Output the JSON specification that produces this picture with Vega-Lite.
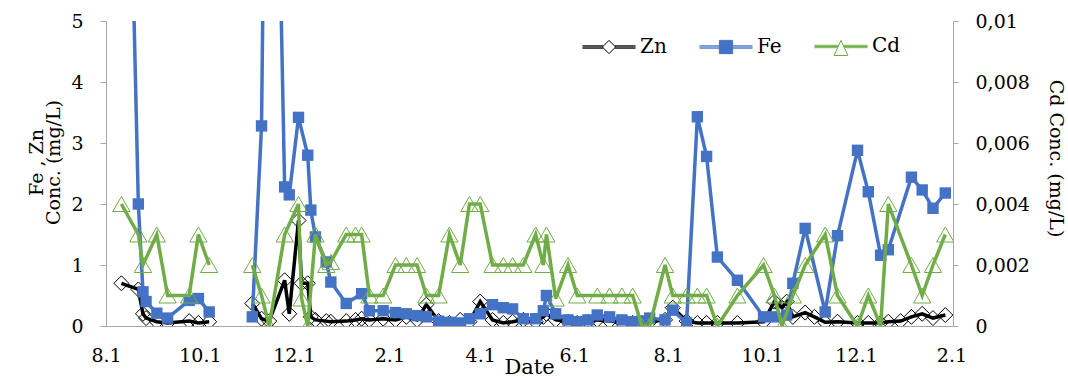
{
  "$schema": "https://vega.github.io/schema/vega-lite/v6.json",
  "autosize": {"type": "none"},
  "padding": {"left": 106, "top": 21, "right": 115, "bottom": 53},
  "width": 847,
  "height": 305,
  "background": "white",
  "config": {
    "font": "DejaVu Serif",
    "view": {"stroke": null},
    "axis": {
      "grid": false,
      "domainColor": "#a6a6a6",
      "tickColor": "#a6a6a6",
      "labelColor": "black",
      "titleColor": "black",
      "labelFont": "DejaVu Serif",
      "titleFont": "DejaVu Serif",
      "labelFontSize": 19,
      "titleFontSize": 19,
      "titleFontWeight": "normal"
    }
  },
  "data": {
    "values": [
      {"date": "2013-08-11", "seg": 1, "Zn": 0.7, "Fe": 14, "Cd": 0.004},
      {"date": "2013-08-22", "seg": 1, "Zn": 0.6, "Fe": 2.0, "Cd": 0.003},
      {"date": "2013-08-25", "seg": 1, "Zn": 0.2, "Fe": 0.56, "Cd": 0.002},
      {"date": "2013-08-27", "seg": 1, "Zn": 0.13, "Fe": 0.4, "Cd": null},
      {"date": "2013-09-03", "seg": 1, "Zn": 0.07, "Fe": 0.21, "Cd": 0.003},
      {"date": "2013-09-10", "seg": 1, "Zn": 0.05, "Fe": 0.13, "Cd": 0.001},
      {"date": "2013-09-24", "seg": 1, "Zn": 0.08, "Fe": 0.42, "Cd": 0.001},
      {"date": "2013-09-30", "seg": 1, "Zn": 0.05, "Fe": 0.45, "Cd": 0.003},
      {"date": "2013-10-07", "seg": 1, "Zn": 0.07, "Fe": 0.23, "Cd": 0.002},
      {"date": "2013-11-04", "seg": 2, "Zn": 0.37, "Fe": 0.15, "Cd": 0.002},
      {"date": "2013-11-10", "seg": 2, "Zn": 0.12, "Fe": 3.28, "Cd": 0.001},
      {"date": "2013-11-15", "seg": 2, "Zn": 0.08, "Fe": 15, "Cd": 0},
      {"date": "2013-11-25", "seg": 2, "Zn": 0.75, "Fe": 2.28, "Cd": 0.003},
      {"date": "2013-11-28", "seg": 2, "Zn": 0.2, "Fe": 2.15, "Cd": null},
      {"date": "2013-12-04", "seg": 2, "Zn": 1.73, "Fe": 3.42, "Cd": 0.004},
      {"date": "2013-12-06", "seg": 2, "Zn": 0.7, "Fe": null, "Cd": 0.0009},
      {"date": "2013-12-10", "seg": 2, "Zn": 0.7, "Fe": 2.8, "Cd": 0},
      {"date": "2013-12-12", "seg": 2, "Zn": 0.15, "Fe": 1.9, "Cd": null},
      {"date": "2013-12-15", "seg": 2, "Zn": 0.1, "Fe": 1.46, "Cd": 0.003},
      {"date": "2013-12-22", "seg": 2, "Zn": 0.08, "Fe": 1.05, "Cd": 0.002},
      {"date": "2013-12-25", "seg": 2, "Zn": 0.07, "Fe": 0.72, "Cd": 0.0021},
      {"date": "2014-01-04", "seg": 2, "Zn": 0.08, "Fe": 0.37, "Cd": 0.003},
      {"date": "2014-01-10", "seg": 2, "Zn": 0.1, "Fe": null, "Cd": 0.003},
      {"date": "2014-01-14", "seg": 2, "Zn": 0.12, "Fe": 0.53, "Cd": 0.003},
      {"date": "2014-01-19", "seg": 2, "Zn": 0.1, "Fe": 0.25, "Cd": 0.001},
      {"date": "2014-01-28", "seg": 2, "Zn": 0.12, "Fe": 0.25, "Cd": 0.001},
      {"date": "2014-02-05", "seg": 2, "Zn": 0.1, "Fe": 0.22, "Cd": 0.002},
      {"date": "2014-02-12", "seg": 2, "Zn": 0.15, "Fe": 0.2, "Cd": 0.002},
      {"date": "2014-02-19", "seg": 2, "Zn": 0.1, "Fe": 0.17, "Cd": 0.002},
      {"date": "2014-02-25", "seg": 2, "Zn": 0.35, "Fe": 0.15, "Cd": 0.001},
      {"date": "2014-03-05", "seg": 2, "Zn": 0.08, "Fe": 0.08, "Cd": 0.001},
      {"date": "2014-03-12", "seg": 2, "Zn": 0.05, "Fe": 0.06, "Cd": 0.003},
      {"date": "2014-03-19", "seg": 2, "Zn": 0.1, "Fe": 0.05, "Cd": 0.002},
      {"date": "2014-03-25", "seg": 2, "Zn": 0.07, "Fe": 0.12, "Cd": 0.004},
      {"date": "2014-04-01", "seg": 2, "Zn": 0.4, "Fe": 0.2, "Cd": 0.004},
      {"date": "2014-04-09", "seg": 2, "Zn": 0.1, "Fe": 0.35, "Cd": 0.002},
      {"date": "2014-04-16", "seg": 2, "Zn": 0.05, "Fe": 0.3, "Cd": 0.002},
      {"date": "2014-04-22", "seg": 2, "Zn": 0.07, "Fe": 0.28, "Cd": 0.002},
      {"date": "2014-04-29", "seg": 2, "Zn": 0.1, "Fe": 0.12, "Cd": 0.002},
      {"date": "2014-05-07", "seg": 2, "Zn": 0.07, "Fe": 0.12, "Cd": 0.003},
      {"date": "2014-05-12", "seg": 2, "Zn": 0.15, "Fe": 0.25, "Cd": 0.002},
      {"date": "2014-05-14", "seg": 2, "Zn": 0.2, "Fe": 0.5, "Cd": 0.003},
      {"date": "2014-05-20", "seg": 2, "Zn": 0.1, "Fe": 0.2, "Cd": 0.0009},
      {"date": "2014-05-28", "seg": 2, "Zn": 0.07, "Fe": 0.1, "Cd": 0.002},
      {"date": "2014-06-03", "seg": 2, "Zn": 0.05, "Fe": 0.07, "Cd": 0.001},
      {"date": "2014-06-10", "seg": 2, "Zn": 0.07, "Fe": 0.1, "Cd": null},
      {"date": "2014-06-16", "seg": 2, "Zn": 0.1, "Fe": 0.18, "Cd": 0.001},
      {"date": "2014-06-24", "seg": 2, "Zn": 0.08, "Fe": 0.15, "Cd": 0.001},
      {"date": "2014-07-02", "seg": 2, "Zn": 0.06, "Fe": 0.1, "Cd": 0.001},
      {"date": "2014-07-09", "seg": 2, "Zn": 0.05, "Fe": 0.07, "Cd": 0.001},
      {"date": "2014-07-15", "seg": 2, "Zn": 0.05, "Fe": 0.08, "Cd": 0},
      {"date": "2014-07-20", "seg": 2, "Zn": 0.07, "Fe": 0.13, "Cd": 0},
      {"date": "2014-07-30", "seg": 2, "Zn": 0.1, "Fe": 0.1, "Cd": 0.002},
      {"date": "2014-08-04", "seg": 2, "Zn": 0.3, "Fe": 0.26, "Cd": 0.001},
      {"date": "2014-08-13", "seg": 2, "Zn": 0.08, "Fe": 0.05, "Cd": 0.001},
      {"date": "2014-08-20", "seg": 2, "Zn": 0.05, "Fe": 3.43, "Cd": 0.001},
      {"date": "2014-08-26", "seg": 2, "Zn": 0.05, "Fe": 2.78, "Cd": 0.001},
      {"date": "2014-09-02", "seg": 2, "Zn": 0.05, "Fe": 1.13, "Cd": 0},
      {"date": "2014-09-15", "seg": 2, "Zn": 0.05, "Fe": 0.75, "Cd": 0.001},
      {"date": "2014-10-02", "seg": 2, "Zn": 0.07, "Fe": 0.15, "Cd": 0.002},
      {"date": "2014-10-09", "seg": 2, "Zn": 0.4, "Fe": 0.15, "Cd": 0.001},
      {"date": "2014-10-14", "seg": 2, "Zn": 0.3, "Fe": null, "Cd": 0},
      {"date": "2014-10-17", "seg": 2, "Zn": 0.4, "Fe": 0.18, "Cd": null},
      {"date": "2014-10-21", "seg": 2, "Zn": 0.15, "Fe": 0.7, "Cd": 0.001},
      {"date": "2014-10-29", "seg": 2, "Zn": 0.22, "Fe": 1.6, "Cd": 0.002},
      {"date": "2014-11-04", "seg": 2, "Zn": 0.15, "Fe": null, "Cd": null},
      {"date": "2014-11-11", "seg": 2, "Zn": 0.06, "Fe": 0.23, "Cd": 0.003},
      {"date": "2014-11-19", "seg": 2, "Zn": 0.07, "Fe": 1.48, "Cd": 0.001},
      {"date": "2014-12-02", "seg": 2, "Zn": 0.05, "Fe": 2.88, "Cd": 0},
      {"date": "2014-12-09", "seg": 2, "Zn": 0.05, "Fe": 2.2, "Cd": 0.001},
      {"date": "2014-12-17", "seg": 2, "Zn": 0.05, "Fe": 1.16, "Cd": 0},
      {"date": "2014-12-22", "seg": 2, "Zn": 0.07, "Fe": 1.25, "Cd": 0.004},
      {"date": "2014-12-30", "seg": 2, "Zn": 0.08, "Fe": null, "Cd": null},
      {"date": "2015-01-06", "seg": 2, "Zn": 0.15, "Fe": 2.44, "Cd": 0.002},
      {"date": "2015-01-13", "seg": 2, "Zn": 0.2, "Fe": 2.23, "Cd": 0.001},
      {"date": "2015-01-20", "seg": 2, "Zn": 0.13, "Fe": 1.93, "Cd": 0.002},
      {"date": "2015-01-28", "seg": 2, "Zn": 0.18, "Fe": 2.18, "Cd": 0.003}
    ]
  },
  "encoding": {
    "x": {
      "field": "date",
      "type": "temporal",
      "scale": {
        "type": "utc",
        "domain": [
          {"year": 2013, "month": 8, "date": 1, "utc": true},
          {"year": 2015, "month": 2, "date": 2, "utc": true}
        ]
      },
      "axis": {
        "title": "Date",
        "titleFontSize": 21,
        "titleX": 423,
        "titleY": 47,
        "titleAlign": "center",
        "titleBaseline": "alphabetic",
        "labelExpr": "utcFormat(datum.value, '%-m.%-d')",
        "values": [
          {"year": 2013, "month": 8, "date": 1, "utc": true},
          {"year": 2013, "month": 10, "date": 1, "utc": true},
          {"year": 2013, "month": 12, "date": 1, "utc": true},
          {"year": 2014, "month": 2, "date": 1, "utc": true},
          {"year": 2014, "month": 4, "date": 1, "utc": true},
          {"year": 2014, "month": 6, "date": 1, "utc": true},
          {"year": 2014, "month": 8, "date": 1, "utc": true},
          {"year": 2014, "month": 10, "date": 1, "utc": true},
          {"year": 2014, "month": 12, "date": 1, "utc": true},
          {"year": 2015, "month": 2, "date": 1, "utc": true}
        ],
        "ticks": false,
        "tickSize": 0,
        "labelPadding": 20,
        "labelFlush": false,
        "labelOverlap": false,
        "labelBound": false
      }
    }
  },
  "layer": [
    {
      "transform": [
        {"fold": ["Zn", "Fe"], "as": ["series", "value"]},
        {"filter": "isValid(datum.value)"}
      ],
      "encoding": {
        "y": {
          "field": "value",
          "type": "quantitative",
          "scale": {"domain": [0, 5], "nice": false, "zero": true},
          "axis": {
            "orient": "left",
            "values": [0, 1, 2, 3, 4, 5],
            "title": ["Fe , Zn", "Conc. (mg/L)"],
            "titleAngle": -90,
            "titleX": -70,
            "titleY": 141,
            "titleAlign": "center",
            "titleBaseline": "middle",
            "titleLineHeight": 17,
            "tickSize": 6,
            "labelPadding": 17
          }
        }
      },
      "layer": [
        {
          "transform": [{"filter": "datum.series === 'Zn'"}],
          "mark": {"type": "line", "clip": true, "strokeWidth": 3.5},
          "encoding": {
            "detail": {"field": "seg"},
            "color": {
              "field": "series",
              "type": "nominal",
              "scale": {"domain": ["Zn", "Fe", "Cd"], "range": ["black", "#4472C4", "#70AD47"]},
              "legend": {
                "title": null,
                "orient": "none",
                "legendX": 476,
                "legendY": -2,
                "direction": "horizontal",
                "columns": 3,
                "columnPadding": 30,
                "padding": 0,
                "symbolSize": 2809,
                "symbolStrokeWidth": 1,
                "labelFontSize": 20,
                "labelFont": "DejaVu Serif",
                "labelColor": "black",
                "labelOffset": 4,
                "labelBaseline": "middle",
                "encode": {
                  "symbols": {
                    "update": {
                      "shape": {"signal": "datum.value === 'Zn' ? 'M-1,-0.045H-0.22M0.22,-0.045H1M-1,0H-0.25M0.25,0H1M-1,0.045H-0.22M0.22,0.045H1M0,-0.25L0.25,0L0,0.25L-0.25,0Z' : datum.value === 'Fe' ? 'M-1,-0.045H1M-1,0H1M-1,0.045H1M-0.25,-0.25H0.25V0.25H-0.25Z' : 'M-1,-0.045H-0.084M0.084,-0.045H1M-1,0H-0.105M0.105,0H1M-1,0.045H-0.125M0.125,0.045H1M0,-0.23L0.26,0.34L-0.26,0.34Z'"},
                      "fill": {"signal": "datum.value === 'Fe' ? '#4472C4' : 'white'"},
                      "strokeWidth": {"value": 1},
                      "opacity": {"value": 1}
                    }
                  }
                }
              }
            }
          }
        },
        {
          "transform": [{"filter": "datum.series === 'Zn'"}],
          "mark": {"type": "point", "shape": "diamond", "size": 225, "filled": false, "stroke": "black", "strokeWidth": 1, "opacity": 1, "clip": true}
        },
        {
          "transform": [{"filter": "datum.series === 'Fe'"}],
          "mark": {"type": "line", "clip": true, "strokeWidth": 3.5},
          "encoding": {
            "detail": {"field": "seg"},
            "color": {"field": "series", "type": "nominal"}
          }
        },
        {
          "transform": [{"filter": "datum.series === 'Fe'"}],
          "mark": {"type": "point", "shape": "square", "size": 130, "filled": true, "fill": "#4472C4", "opacity": 1, "clip": true}
        }
      ]
    },
    {
      "transform": [
        {"fold": ["Cd"], "as": ["series", "value"]},
        {"filter": "isValid(datum.value)"}
      ],
      "encoding": {
        "y": {
          "field": "value",
          "type": "quantitative",
          "scale": {"domain": [0, 0.01], "nice": false, "zero": true},
          "axis": {
            "orient": "right",
            "values": [0, 0.002, 0.004, 0.006, 0.008, 0.01],
            "labelExpr": "replace(toString(datum.value), '.', ',')",
            "title": "Cd Conc. (mg/L)",
            "titleAngle": 90,
            "titleX": 102,
            "titleY": 137,
            "titleAlign": "center",
            "titleBaseline": "middle",
            "tickSize": 5,
            "labelPadding": 17,
            "labelAlign": "left"
          }
        }
      },
      "layer": [
        {
          "mark": {"type": "line", "clip": true, "strokeWidth": 3.5},
          "encoding": {
            "detail": {"field": "seg"},
            "color": {"field": "series", "type": "nominal"}
          }
        },
        {
          "mark": {"type": "point", "shape": "triangle-up", "size": 300, "filled": false, "stroke": "#70AD47", "strokeWidth": 1, "opacity": 1, "clip": true}
        }
      ]
    }
  ],
  "resolve": {"scale": {"y": "independent"}}
}
